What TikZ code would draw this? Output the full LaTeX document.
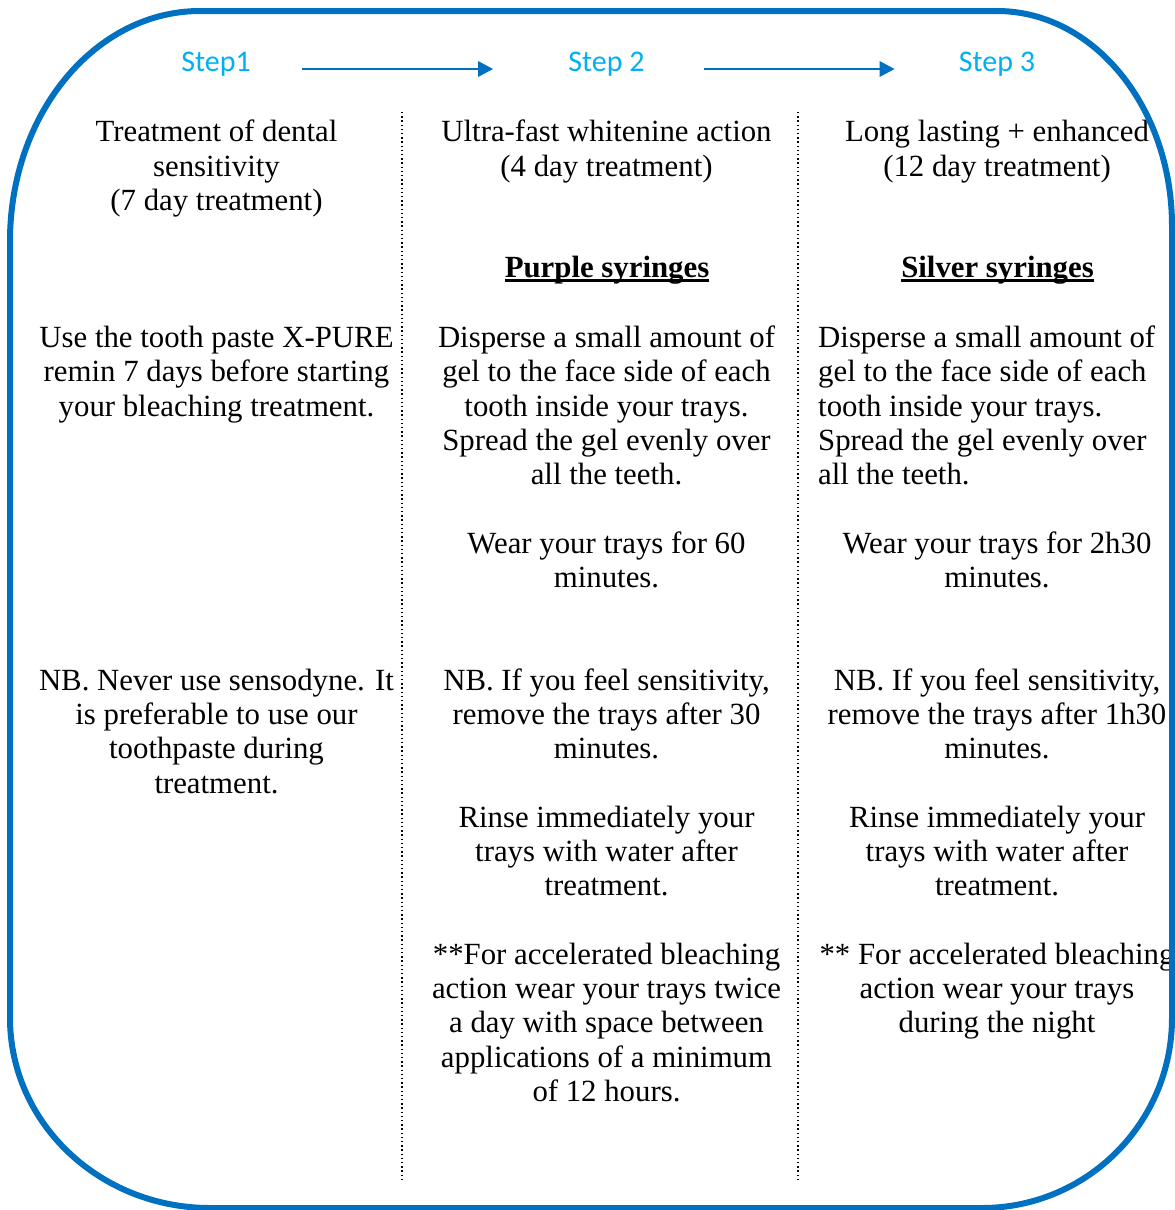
\documentclass[tikz,border=0pt]{standalone}
\usepackage{fontspec}
\setmainfont{Liberation Serif}
\newfontfamily\stepfont{Carlito}
\usetikzlibrary{arrows.meta}
\definecolor{frameblue}{HTML}{0070C0}
\definecolor{steptext}{HTML}{00B0F0}
% fixes the height of the first line so every paragraph hangs from its baseline
\newcommand\firststrut{\rule{0pt}{24pt}}
% bold heading with a rule set just below the baseline
\newcommand\ulbold[1]{\setbox0=\hbox{\bfseries #1}\rlap{\rule[-5pt]{\wd0}{2.6pt}}\box0}

\begin{document}
\begin{tikzpicture}[x=1pt,y=-1pt,
  steplabel/.style={font=\stepfont\fontsize{30pt}{36pt}\selectfont, text=steptext, inner sep=0pt, anchor=base},
  para/.style={font=\fontsize{30.8pt}{34.27pt}\selectfont, align=center, inner sep=0pt, anchor=north},
  paraleft/.style={para, align=left, anchor=north west},
  heading/.style={font=\fontsize{30.8pt}{34.27pt}\selectfont, inner sep=0pt, anchor=base},
  flow/.style={draw=frameblue, line width=2.8pt, -{Triangle[length=15pt,width=15pt]}},
  divider/.style={line width=1.4pt, dash pattern=on 1.4pt off 2.8pt},
  frame/.style={draw=frameblue, line width=6pt}]
\useasboundingbox (0,0) rectangle (1175,1210);

% step labels and the arrows between them
\node[steplabel] (step1) at (216,71) {Step1};
\node[steplabel] (step2) at (606.5,71) {Step 2};
\node[steplabel] (step3) at (997,71) {Step 3};
\draw[flow, shorten <=51pt, shorten >=75pt] ([yshift=2pt]step1.base east) -- ([yshift=2pt]step2.base west);
\draw[flow, shorten <=59pt, shorten >=64pt] ([yshift=2pt]step2.base east) -- ([yshift=2pt]step3.base west);

% column dividers
\draw[divider] (402,112) -- (402,1180);
\draw[divider] (798,112) -- (798,1180);

% column 1
\node[para] (c1title) at (216.5,117.7) {\firststrut Treatment of dental\\sensitivity\\(7 day treatment)};
\node[para] (c1use) at (216.5,323.3) {\firststrut Use the tooth paste X-PURE\\remin 7 days before starting\\your bleaching treatment.};
\node[para] (c1nb) at (216.5,666.0) {\firststrut NB. Never use sensodyne. It\\is preferable to use our\\toothpaste during\\treatment.};

% column 2
\node[para] (c2title) at (606.5,117.7) {\firststrut Ultra-fast whitenine action\\(4 day treatment)};
\node[heading] (c2head) at (607,277) {\ulbold{Purple syringes}};
\node[para] (c2gel) at (606.5,323.3) {\firststrut Disperse a small amount of\\gel to the face side of each\\tooth inside your trays.\\Spread the gel evenly over\\all the teeth.};
\node[para] (c2wear) at (606.5,528.9) {\firststrut Wear your trays for 60\\minutes.};
\node[para] (c2nb) at (606.5,666.0) {\firststrut NB. If you feel sensitivity,\\remove the trays after 30\\minutes.};
\node[para] (c2rinse) at (606.5,803.1) {\firststrut Rinse immediately your\\trays with water after\\treatment.};
\node[para] (c2extra) at (606.5,940.2) {\firststrut **For accelerated bleaching\\action wear your trays twice\\a day with space between\\applications of a minimum\\of 12 hours.};

% column 3
\node[para] (c3title) at (997,117.7) {\firststrut Long lasting + enhanced\\(12 day treatment)};
\node[heading] (c3head) at (997.5,277) {\ulbold{Silver syringes}};
\node[paraleft] (c3gel) at (818,323.3) {\firststrut Disperse a small amount of\\gel to the face side of each\\tooth inside your trays.\\Spread the gel evenly over\\all the teeth.};
\node[para] (c3wear) at (997,528.9) {\firststrut Wear your trays for 2h30\\minutes.};
\node[para] (c3nb) at (997,666.0) {\firststrut NB. If you feel sensitivity,\\remove the trays after 1h30\\minutes.};
\node[para] (c3rinse) at (997,803.1) {\firststrut Rinse immediately your\\trays with water after\\treatment.};
\node[para] (c3extra) at (997,940.2) {\firststrut ** For accelerated bleaching\\action wear your trays\\during the night};

% rounded outer frame, drawn over the text
\draw[frame] (200,11) -- (997,11)
  .. controls (1093.7,11) and (1172,107.3) .. (1172,226)
  -- (1172,1018)
  .. controls (1172,1122.9) and (1086.9,1208) .. (982,1208)
  -- (210,1208)
  .. controls (99.5,1208) and (10,1122.9) .. (10,1018)
  -- (10,241)
  .. controls (10,114) and (95,11) .. (200,11) -- cycle;
\end{tikzpicture}
\end{document}
